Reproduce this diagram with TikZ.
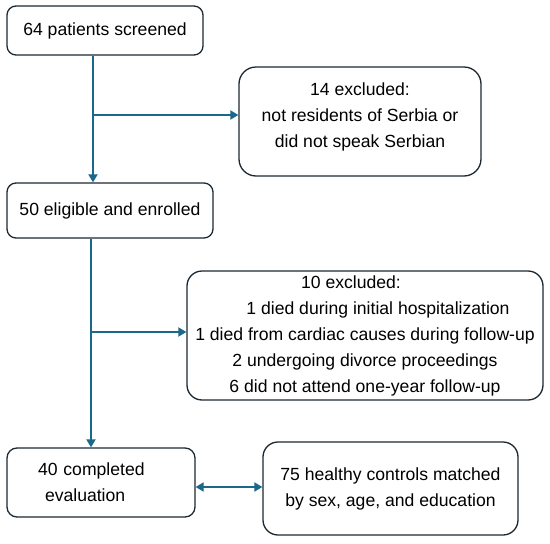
\documentclass[tikz,border=0pt]{standalone}
\usepackage{fontspec}
\setmainfont{Liberation Sans}
\usetikzlibrary{arrows.meta,calc}
\definecolor{arrowc}{RGB}{26,104,138}
\definecolor{boxc}{RGB}{28,40,50}
\tikzset{
  tipc/.tip={Triangle[length=8pt,width=9pt]},
}
\begin{document}
\begin{tikzpicture}[x=1pt,y=-1pt,
  box/.style={draw=boxc, line width=1.3pt, rounded corners=#1, inner sep=0pt,
    align=center, font=\fontsize{17.6}{26}\selectfont},
  box/.default=9pt,
  conn/.style={draw=arrowc, line width=1.8pt, -tipc},
  dconn/.style={draw=arrowc, line width=1.8pt, tipc-tipc},
]
\useasboundingbox[fill=white] (0,0) rectangle (550,544);

\node[box, minimum width=196pt, minimum height=49pt] (b1) at (105,30.5) {64 patients screened};
\node[box=17pt, minimum width=242pt, minimum height=109pt, text depth=12pt] (b2) at (360,121.5)
  {14 excluded:\\ not residents of Serbia or\\ did not speak Serbian};
\node[box, minimum width=206pt, minimum height=55pt] (b3) at (110,210.5) {50 eligible and enrolled};
\node[box=15pt, minimum width=356pt, minimum height=129pt] (b5) at (365,335.5)
  {\hspace*{-28pt}10 excluded:\\
   \hspace*{26pt}1 died during initial hospitalization\\
   1 died from cardiac causes during follow-up\\
   2 undergoing divorce proceedings\\
   6 did not attend one-year follow-up};
\node[box=10pt, align=left, text width=126pt, inner xsep=31pt, minimum height=69pt] (b4) at (101,482.5)
  {40 completed\\ \hspace*{7pt}evaluation};
\node[box=15pt, minimum width=255pt, minimum height=93pt] (b6) at (390.5,488.5)
  {75 healthy controls matched\\ by sex, age, and education};

\coordinate (j1) at (93,115);
\draw[conn] (b1.south -| j1) -- (b3.north -| j1);
\draw[conn] (j1) -- (b2.west |- j1);

\coordinate (j2) at (91,332);
\draw[conn] (b3.south -| j2) -- (b4.north -| j2);
\draw[conn] (j2) -- (b5.west |- j2);

\coordinate (j3) at (0,487);
\draw[dconn] (b4.east |- j3) -- (b6.west |- j3);
\end{tikzpicture}
\end{document}
